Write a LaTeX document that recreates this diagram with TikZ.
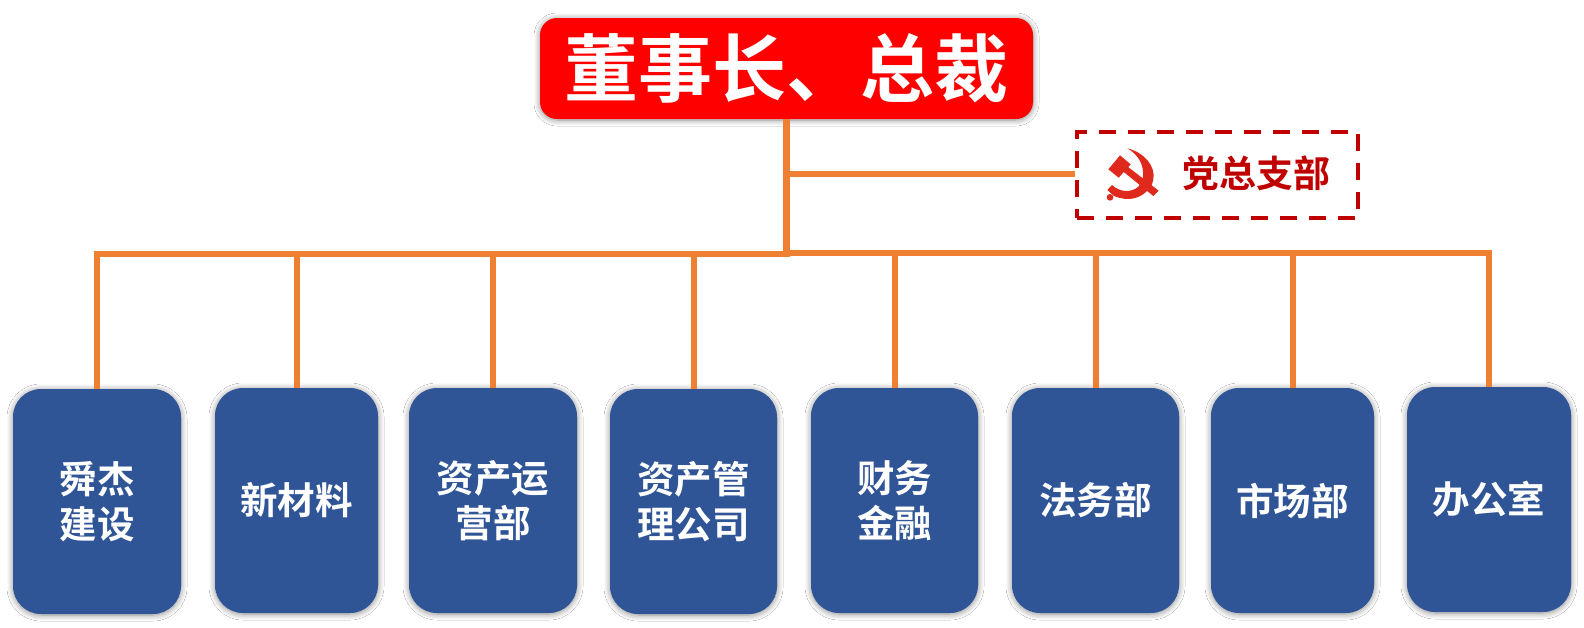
\documentclass[tikz,border=0pt]{standalone}
\usepackage{fontspec}
\newfontfamily\cjk{Noto Sans CJK SC}[BoldFont={Noto Sans CJK SC Bold}]
\usetikzlibrary{shadows.blur}
\definecolor{deptblue}{HTML}{2F5597}
\definecolor{linkorange}{HTML}{F08031}
\definecolor{partyred}{HTML}{C00000}
\definecolor{emblemred}{HTML}{DE291C}
\tikzset{
  softshadow/.style={blur shadow={shadow xshift=0pt,shadow yshift=-1pt,shadow blur radius=6pt,shadow blur steps=10,shadow opacity=45}},
  dept/.style={rectangle,rounded corners=28pt,fill=deptblue,inner sep=0pt,minimum height=225pt,
    text=white,align=center,softshadow,font=\cjk\bfseries\fontsize{37.5}{44.6}\selectfont},
  chairbox/.style={rectangle,rounded corners=17pt,fill=red,inner sep=0pt,minimum width=493pt,minimum height=101pt,
    text=white,softshadow,font=\cjk\bfseries\fontsize{74}{80}\selectfont},
  partybox/.style={rectangle,draw=partyred,line width=3.6pt,dash pattern=on 17pt off 12pt,inner sep=0pt,
    minimum width=281pt,minimum height=86pt},
  partytext/.style={text=partyred,inner sep=0pt,font=\cjk\bfseries\fontsize{37}{40}\selectfont},
  link/.style={draw=linkorange,line width=6pt,line join=miter},
  trunk/.style={draw=linkorange,line width=7pt}
}
\begin{document}
\begin{tikzpicture}[x=1pt,y=-1pt]
\useasboundingbox (0,0) rectangle (1584,627);
\fill[white] (0,0) rectangle (1584,627);

% chairman and party branch
\node[chairbox] (chair) at (786.5,68.5) {董事长、总裁};
\node[partybox] (party) at (1217.5,175) {};
\node[partytext] (partylabel) at (1256.5,173) {党总支部};

% hammer and sickle, laid out on a 3:1 grid
\begin{scope}[shift={(1090,140)},x=0.3333pt,y=-0.3333pt,fill=emblemred]
  \fill (112,25) .. controls (165,38) and (197,80) .. (190,118)
        .. controls (187,135) and (180,147) .. (172,152)
        .. controls (150,175) and (115,186) .. (72,168)
        -- (52,150) -- (66,135)
        .. controls (90,158) and (125,158) .. (145,140)
        .. controls (170,115) and (165,55) .. (112,25) -- cycle;
  \fill (60,172) circle (10);
  \fill (55,88) -- (90,46) -- (122,73) -- (86,113) -- cycle;
  \fill (100,95) -- (113,80) -- (206,152) -- (190,168) -- cycle;
\end{scope}

% departments
\node[dept,minimum width=168pt] (b1) at (97,501.5) {舜杰\\建设};
\node[dept,minimum width=163pt] (b2) at (296.5,500.5) {新材料};
\node[dept,minimum width=168pt] (b3) at (493,500.5) {资产运\\营部};
\node[dept,minimum width=167pt] (b4) at (693.5,501.5) {资产管\\理公司};
\node[dept,minimum width=167pt] (b5) at (894.5,500.5) {财务\\金融};
\node[dept,minimum width=167pt] (b6) at (1095.5,500.5) {法务部};
\node[dept,minimum width=163pt] (b7) at (1292.5,500.5) {市场部};
\node[dept,minimum width=164pt] (b8) at (1489,499.5) {办公室};

% connectors
\coordinate (busleft) at (786.5,254);
\coordinate (busright) at (786.5,253);
\coordinate (trunkend) at (786.5,257);
\coordinate (branch) at (786.5,174);
\draw[trunk] (chair.south) -- (trunkend);
\draw[link] (branch) -- (party.west |- branch);
\draw[link] (busleft) -| (b1.north);
\draw[link] (busright) -| (b8.north);
\draw[link] (b2.north |- busleft) -- (b2.north);
\draw[link] (b3.north |- busleft) -- (b3.north);
\draw[link] (b4.north |- busleft) -- (b4.north);
\draw[link] (b5.north |- busright) -- (b5.north);
\draw[link] (b6.north |- busright) -- (b6.north);
\draw[link] (b7.north |- busright) -- (b7.north);
\end{tikzpicture}
\end{document}
